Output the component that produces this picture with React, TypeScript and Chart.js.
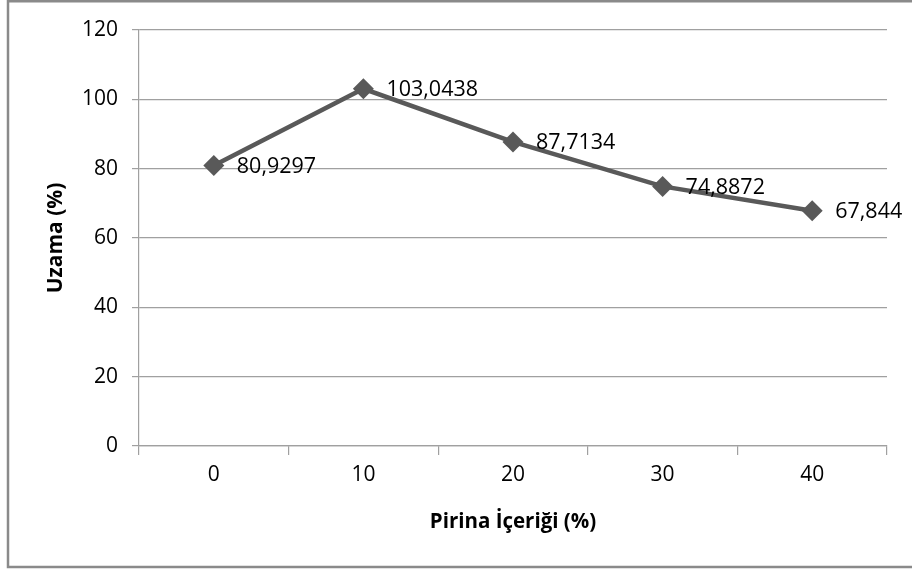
import React, { useEffect, useRef } from "react";
import { Chart, registerables } from "chart.js";

Chart.register(...registerables);

const categories = ["0", "10", "20", "30", "40"];
const uzamaValues = [80.9297, 103.0438, 87.7134, 74.8872, 67.844];
const yTicks = { min: 0, max: 120, step: 20 };
const xTitle = "Pirina İçeriği (%)";
const yTitle = "Uzama (%)";

const FONT = "'Open Sans', Lato, sans-serif";

const frame = {
  id: "frame",
  beforeDraw(chart: any) {
    const ctx = chart.ctx;
    ctx.save();
    ctx.fillStyle = "#ffffff";
    ctx.fillRect(0, 0, chart.width, chart.height);
    ctx.strokeStyle = "#8a8a8a";
    ctx.lineWidth = 2.5;
    ctx.beginPath();
    ctx.moveTo(chart.width + 5, 1.2);
    ctx.lineTo(8, 1.2);
    ctx.lineTo(8, 567);
    ctx.lineTo(chart.width + 5, 567);
    ctx.stroke();
    ctx.restore();
  },
};

const dataLabels = {
  id: "dataLabels",
  afterDatasetsDraw(chart: any) {
    const ctx = chart.ctx;
    const meta = chart.getDatasetMeta(0);
    const ds = chart.data.datasets[0];
    ctx.save();
    ctx.font = `21.5px ${FONT}`;
    ctx.fillStyle = "#000000";
    ctx.textAlign = "left";
    ctx.textBaseline = "middle";
    meta.data.forEach((pt: any, i: number) => {
      const txt = String(ds.data[i]).replace(".", ",");
      ctx.fillText(txt, pt.x + 23, pt.y + 1);
    });
    ctx.restore();
  },
};

export default function App() {
  const ref = useRef<HTMLCanvasElement | null>(null);

  useEffect(() => {
    if (!ref.current) return;
    const chart = new Chart(ref.current, {
      type: "line",
      data: {
        labels: categories,
        datasets: [
          {
            data: uzamaValues,
            borderColor: "#595959",
            backgroundColor: "#595959",
            borderWidth: 4.5,
            pointStyle: "rectRot",
            pointRadius: 10.5,
            pointHoverRadius: 10.5,
            pointBorderWidth: 0,
            tension: 0,
          },
        ],
      },
      options: {
        animation: false,
        responsive: false,
        events: [],
        layout: { padding: { top: 30, right: 25, left: 0, bottom: 0 } },
        plugins: {
          legend: { display: false },
          tooltip: { enabled: false },
        },
        scales: {
          x: {
            type: "category",
            offset: true,
            grid: {
              offset: true,
              drawOnChartArea: false,
              drawTicks: true,
              tickLength: 9,
              color: "#a0a0a0",
              lineWidth: 1.2,
            },
            border: { display: true, color: "#a0a0a0", width: 1.2 },
            ticks: {
              color: "#000000",
              font: { family: FONT, size: 21 },
              padding: 7,
              maxRotation: 0,
            },
            title: {
              display: true,
              text: xTitle,
              color: "#000000",
              font: { family: FONT, size: 20.5, weight: "bold" },
              padding: { top: 0, bottom: 38 },
            },
            afterFit(scale: any) {
              scale.height = 126;
            },
          },
          y: {
            min: yTicks.min,
            max: yTicks.max,
            ticks: {
              stepSize: yTicks.step,
              color: "#000000",
              font: { family: FONT, size: 21 },
              padding: 14,
            },
            grid: {
              color: "#a0a0a0",
              lineWidth: 1.2,
              tickLength: 7,
            },
            border: { display: true, color: "#a0a0a0", width: 1.2 },
            title: {
              display: true,
              text: yTitle,
              color: "#000000",
              font: { family: FONT, size: 21, weight: "bold" },
              padding: { top: 43, bottom: 0 },
            },
            afterFit(scale: any) {
              scale.width = 139;
            },
          },
        },
      },
      plugins: [frame, dataLabels],
    } as any);
    return () => chart.destroy();
  }, []);

  return (
    <div style={{ position: "absolute", left: 0, top: 0, width: 912, height: 572 }}>
      <canvas ref={ref} width={912} height={572} style={{ display: "block" }} />
    </div>
  );
}
